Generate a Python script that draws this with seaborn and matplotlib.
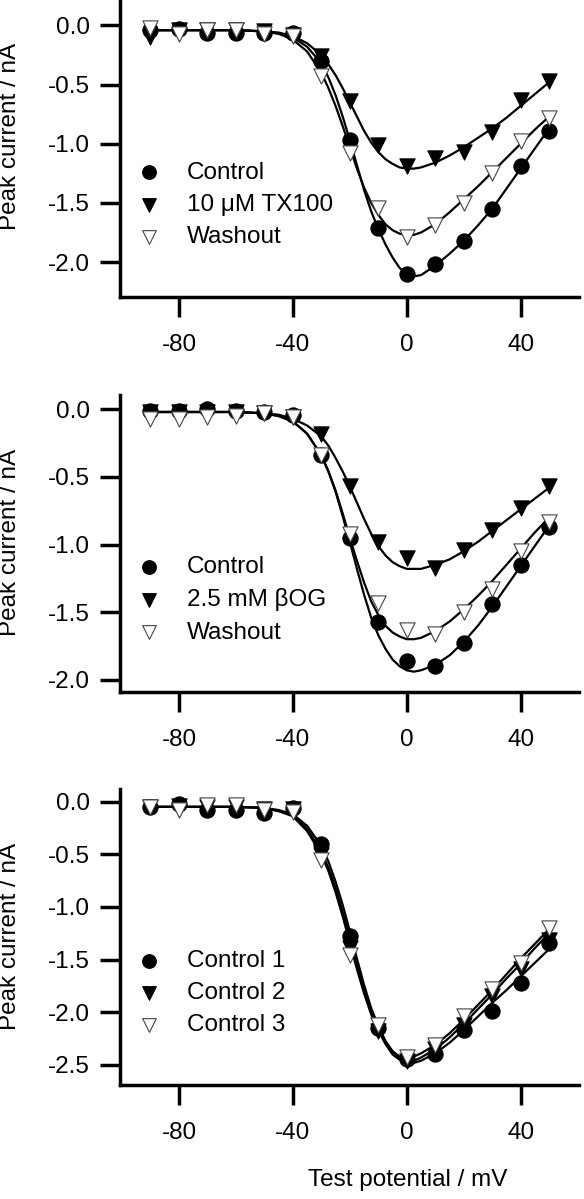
import matplotlib
matplotlib.use("Agg")
import matplotlib.pyplot as plt
import pandas as pd
import seaborn as sns

# test potentials of the measured points (mV)
volts = [-90, -80, -70, -60, -50, -40, -30, -20, -10, 0, 10, 20, 30, 40, 50]

fit_volts = [-90, -80, -70, -60, -50, -45, -40, -35, -30, -27.5, -25, -22.5,
             -20, -17.5, -15, -12.5, -10, -7.5, -5, -2.5, 0, 2.5, 5,
             10, 15, 20, 25, 30, 35, 40, 45, 50]

# panel A : TX100
a_control = [-0.04, -0.03, -0.06, -0.06, -0.06, -0.06, -0.30, -0.97, -1.71, -2.10, -2.02, -1.82, -1.55, -1.19, -0.89]
a_tx100 = [-0.10, -0.04, -0.04, -0.04, -0.05, -0.08, -0.26, -0.64, -1.01, -1.19, -1.12, -1.07, -0.90, -0.63, -0.47]
a_wash = [-0.02, -0.07, -0.04, -0.04, -0.07, -0.09, -0.43, -1.08, -1.54, -1.79, -1.69, -1.50, -1.25, -0.98, -0.78]
a_control_fit = [-0.04, -0.04, -0.04, -0.04, -0.05, -0.07, -0.10, -0.18, -0.32, -0.44, -0.59, -0.77,
                 -0.97, -1.18, -1.39, -1.57, -1.72, -1.85, -1.96, -2.05, -2.10, -2.12, -2.11,
                 -2.03, -1.93, -1.82, -1.69, -1.55, -1.38, -1.21, -1.04, -0.87]
a_tx100_fit = [-0.04, -0.04, -0.04, -0.04, -0.05, -0.06, -0.09, -0.15, -0.25, -0.33, -0.42, -0.53,
               -0.65, -0.77, -0.89, -0.99, -1.07, -1.13, -1.17, -1.20, -1.21, -1.21, -1.20,
               -1.16, -1.10, -1.03, -0.95, -0.87, -0.78, -0.68, -0.58, -0.48]
a_wash_fit = [-0.04, -0.04, -0.04, -0.04, -0.05, -0.07, -0.12, -0.22, -0.40, -0.53, -0.68, -0.85,
              -1.03, -1.21, -1.37, -1.50, -1.60, -1.68, -1.73, -1.76, -1.77, -1.77, -1.75,
              -1.68, -1.58, -1.47, -1.36, -1.24, -1.12, -1.00, -0.88, -0.77]

# panel B : beta-OG
b_control = [-0.01, -0.01, 0.0, -0.01, -0.02, -0.04, -0.34, -0.95, -1.57, -1.86, -1.90, -1.73, -1.44, -1.15, -0.87]
b_bog = [-0.02, -0.02, -0.02, -0.02, -0.03, -0.06, -0.18, -0.57, -0.98, -1.10, -1.17, -1.04, -0.89, -0.73, -0.57]
b_wash = [-0.07, -0.07, -0.06, -0.05, -0.03, -0.06, -0.34, -0.92, -1.43, -1.63, -1.66, -1.50, -1.33, -1.05, -0.83]
b_control_fit = [-0.02, -0.02, -0.02, -0.02, -0.03, -0.05, -0.09, -0.18, -0.34, -0.46, -0.61, -0.79,
                 -0.98, -1.18, -1.37, -1.54, -1.67, -1.77, -1.85, -1.90, -1.93, -1.94, -1.93,
                 -1.89, -1.82, -1.72, -1.60, -1.46, -1.31, -1.16, -1.01, -0.86]
b_bog_fit = [-0.02, -0.02, -0.02, -0.02, -0.03, -0.04, -0.07, -0.12, -0.20, -0.27, -0.36, -0.46,
             -0.57, -0.69, -0.81, -0.92, -1.01, -1.08, -1.13, -1.16, -1.18, -1.18, -1.18,
             -1.15, -1.11, -1.05, -0.98, -0.90, -0.82, -0.74, -0.66, -0.58]
b_wash_fit = [-0.02, -0.02, -0.02, -0.02, -0.03, -0.05, -0.09, -0.18, -0.34, -0.46, -0.60, -0.77,
              -0.95, -1.12, -1.28, -1.42, -1.52, -1.60, -1.65, -1.68, -1.70, -1.70, -1.69,
              -1.64, -1.57, -1.48, -1.38, -1.27, -1.15, -1.03, -0.91, -0.80]

# panel C : three controls
c_ctrl1 = [-0.05, -0.02, -0.08, -0.08, -0.11, -0.06, -0.40, -1.28, -2.15, -2.44, -2.40, -2.17, -1.99, -1.72, -1.34]
c_ctrl2 = [-0.05, -0.04, -0.05, -0.05, -0.07, -0.07, -0.51, -1.39, -2.18, -2.46, -2.35, -2.12, -1.85, -1.59, -1.31]
c_ctrl3 = [-0.05, -0.08, -0.03, -0.03, -0.08, -0.10, -0.55, -1.46, -2.12, -2.42, -2.31, -2.04, -1.78, -1.53, -1.20]
c_ctrl1_fit = [-0.05, -0.05, -0.05, -0.05, -0.06, -0.08, -0.12, -0.23, -0.42, -0.57, -0.76, -0.98,
               -1.23, -1.49, -1.74, -1.96, -2.13, -2.27, -2.37, -2.44, -2.47, -2.48, -2.46,
               -2.39, -2.29, -2.17, -2.04, -1.91, -1.79, -1.66, -1.53, -1.40]
c_ctrl2_fit = [-0.05, -0.05, -0.05, -0.05, -0.06, -0.09, -0.13, -0.26, -0.47, -0.63, -0.82, -1.05,
               -1.30, -1.55, -1.79, -2.00, -2.17, -2.30, -2.40, -2.45, -2.47, -2.46, -2.43,
               -2.35, -2.24, -2.11, -1.97, -1.83, -1.68, -1.54, -1.39, -1.25]
c_ctrl3_fit = [-0.05, -0.05, -0.05, -0.05, -0.06, -0.09, -0.14, -0.28, -0.50, -0.66, -0.86, -1.09,
               -1.34, -1.59, -1.82, -2.02, -2.17, -2.29, -2.37, -2.42, -2.43, -2.42, -2.39,
               -2.31, -2.20, -2.07, -1.93, -1.79, -1.64, -1.49, -1.35, -1.21]

labels_a = ["Control", "10 \u03bcM TX100", "Washout"]
labels_b = ["Control", "2.5 mM \u03b2OG", "Washout"]
labels_c = ["Control 1", "Control 2", "Control 3"]
yticks_ab = [0.0, -0.5, -1.0, -1.5, -2.0]
yticks_c = [0.0, -0.5, -1.0, -1.5, -2.0, -2.5]
xticks = [-80, -40, 0, 40]

sns.set_style("ticks")
plt.rcParams['font.family'] = ['Liberation Sans', 'DejaVu Sans']
plt.rcParams['font.size'] = 17.5
plt.rcParams['axes.unicode_minus'] = False
plt.rcParams['text.color'] = 'black'
plt.rcParams['axes.labelcolor'] = 'black'
plt.rcParams['xtick.color'] = 'black'
plt.rcParams['ytick.color'] = 'black'

FS = 17.5
fig = plt.figure(figsize=(5.84, 11.99), dpi=100)

# marker styles: filled circle, filled triangle, open triangle
styles = [dict(marker="o", color="black", edgecolor="black"),
          dict(marker="v", color="black", edgecolor="black"),
          dict(marker="v", color="white", edgecolor="#444444")]

panels = [
    ([0.2055, 0.7523, 0.786, 0.2477], (-2.295, 0.215), yticks_ab, labels_a,
     [a_control, a_tx100, a_wash], [a_control_fit, a_tx100_fit, a_wash_fit], 0.54),
    ([0.2055, 0.4229, 0.786, 0.2477], (-2.09, 0.106), yticks_ab, labels_b,
     [b_control, b_bog, b_wash], [b_control_fit, b_bog_fit, b_wash_fit], 0.505),
    ([0.2055, 0.0951, 0.786, 0.2469], (-2.69, 0.12), yticks_c, labels_c,
     [c_ctrl1, c_ctrl2, c_ctrl3], [c_ctrl1_fit, c_ctrl2_fit, c_ctrl3_fit], 0.503),
]

for i, (rect, ylim, yticks, labels, points, fits, ylab_y) in enumerate(panels):
    ax = fig.add_axes(rect)
    for fit in fits:
        sns.lineplot(x=fit_volts, y=fit, ax=ax, color="black", lw=1.6,
                     sort=False, zorder=2)
    for pts, lab, st in zip(points, labels, styles):
        df = pd.DataFrame({"V": volts, "I": pts})
        sns.scatterplot(data=df, x="V", y="I", ax=ax, s=120, linewidth=0.8,
                        label=lab, zorder=3, **st)
    ax.set_xlim(-100.7, 60.5)
    ax.set_ylim(*ylim)
    ax.set_xticks(xticks)
    ax.set_yticks(yticks)
    ax.set_yticklabels([f"{t:.1f}" for t in yticks])
    ax.tick_params(axis="both", length=14.5, width=2.5, labelsize=FS, color="black")
    ax.tick_params(axis="y", pad=7)
    ax.tick_params(axis="x", pad=12)
    for side in ["left", "bottom"]:
        ax.spines[side].set_linewidth(2.5)
        ax.spines[side].set_color("black")
    sns.despine(ax=ax)
    ax.set_ylabel("Peak current / nA", fontsize=FS)
    ax.yaxis.set_label_coords(-0.215, ylab_y)
    if i == 2:
        ax.set_xlabel("Test potential / mV", fontsize=FS)
        ax.xaxis.set_label_coords(0.627, -0.285)
    else:
        ax.set_xlabel("")
    ax.legend(loc="center left", bbox_to_anchor=(0.040, 0.31), frameon=False,
              borderpad=0, borderaxespad=0, handlelength=0.9, handletextpad=1.1,
              labelspacing=0.42, fontsize=FS, scatterpoints=1, markerscale=0.9)

fig.savefig("out.png", dpi=100)
